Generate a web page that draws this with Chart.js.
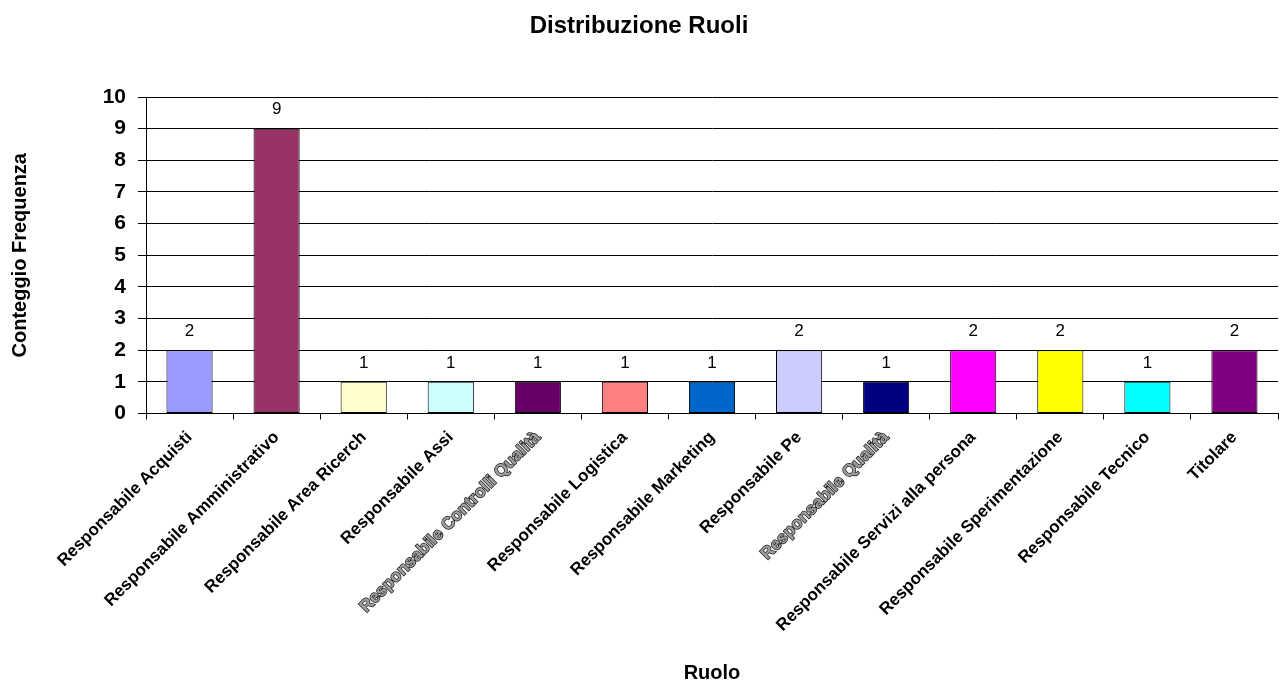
<!DOCTYPE html>
<html lang="it">
<head>
<meta charset="utf-8">
<title>Distribuzione Ruoli</title>
<script src="https://cdn.jsdelivr.net/npm/chart.js@4.4.1/dist/chart.umd.min.js"></script>
<style>
  html, body { margin: 0; padding: 0; background: #ffffff; }
  canvas { display: block; }
</style>
</head>
<body>
<canvas id="chart" width="1280" height="683"></canvas>
<script>
// Ruoli (etichette come appaiono sull'asse)
const ruoli = [
  'Responsabile Acquisti',
  'Responsabile Amministrativo',
  'Responsabile Area Ricerch',
  'Responsabile Assi',
  'Responsabile Controlli Qualità',
  'Responsabile Logistica',
  'Responsabile Marketing',
  'Responsabile Pe',
  'Responsabile Qualità',
  'Responsabile Servizi alla persona',
  'Responsabile Sperimentazione',
  'Responsabile Tecnico',
  'Titolare'
];

// Conteggio per ruolo
const conteggi = [2, 9, 1, 1, 1, 1, 1, 2, 1, 2, 2, 1, 2];

// Valori dell'asse Y
const yMin = 0;
const yMax = 10;
const yStep = 1;

// Colori delle barre
const coloriBarre = [
  '#9999FF', '#993366', '#FFFFCC', '#CCFFFF', '#660066', '#FF8080', '#0066CC',
  '#CCCCFF', '#000080', '#FF00FF', '#FFFF00', '#00FFFF', '#800080'
];

// Etichette disegnate con contorno
const etichetteContorno = ['Responsabile Controlli Qualità', 'Responsabile Qualità'];

const FONT = '"Liberation Sans", Arial, Helvetica, sans-serif';

// Valore sopra ogni barra
const valoriSopraBarre = {
  id: 'valoriSopraBarre',
  afterDatasetsDraw(chart) {
    const ctx = chart.ctx;
    const meta = chart.getDatasetMeta(0);
    const data = chart.data.datasets[0].data;
    ctx.save();
    ctx.font = '17px ' + FONT;
    ctx.fillStyle = '#000000';
    ctx.textAlign = 'center';
    ctx.textBaseline = 'middle';
    meta.data.forEach((bar, i) => {
      ctx.fillText(String(data[i]), bar.x, bar.y - 19);
    });
    ctx.restore();
  }
};

new Chart(document.getElementById('chart'), {
  type: 'bar',
  data: {
    labels: ruoli,
    datasets: [{
      data: conteggi,
      backgroundColor: coloriBarre,
      borderColor: '#000000',
      borderWidth: 1,
      borderSkipped: false,
      barPercentage: 0.53,
      categoryPercentage: 1.0
    }]
  },
  options: {
    responsive: false,
    animation: false,
    devicePixelRatio: 1,
    layout: { padding: { left: 0, right: 2, top: 0, bottom: 0 } },
    plugins: {
      legend: { display: false },
      tooltip: { enabled: false },
      title: {
        display: true,
        text: 'Distribuzione Ruoli',
        color: '#000000',
        font: { family: FONT, size: 24, weight: 'bold', lineHeight: 1.2 },
        padding: { top: 12, bottom: 56.2 }
      }
    },
    scales: {
      x: {
        grid: {
          display: true,
          drawOnChartArea: false,
          drawTicks: true,
          tickLength: 6,
          color: '#000000',
          lineWidth: 1,
          offset: true
        },
        border: { display: true, color: '#000000', width: 1 },
        ticks: {
          autoSkip: false,
          minRotation: 45,
          maxRotation: 45,
          padding: 8,
          font: { family: FONT, size: 17, weight: 'bold' },
          color: (c) => etichetteContorno.includes(ruoli[c.index]) ? '#a0a0a0' : '#000000',
          textStrokeColor: (c) => etichetteContorno.includes(ruoli[c.index]) ? '#202020' : '',
          textStrokeWidth: (c) => etichetteContorno.includes(ruoli[c.index]) ? 1.5 : 0
        },
        title: {
          display: true,
          text: 'Ruolo',
          color: '#000000',
          font: { family: FONT, size: 20, weight: 'bold', lineHeight: 1 },
          padding: { top: 0, bottom: 0 }
        },
        afterFit(scale) { scale.height = 269.5; }
      },
      y: {
        min: yMin,
        max: yMax,
        ticks: {
          stepSize: yStep,
          padding: 12,
          color: '#000000',
          font: { family: FONT, size: 21, weight: 'bold' }
        },
        grid: {
          color: '#000000',
          lineWidth: 1,
          drawTicks: true,
          tickLength: 8
        },
        border: { display: true, color: '#000000', width: 1 },
        title: {
          display: true,
          text: 'Conteggio Frequenza',
          color: '#000000',
          font: { family: FONT, size: 20, weight: 'bold', lineHeight: 1.2 },
          padding: { top: 8, bottom: 0 }
        },
        afterFit(scale) { scale.width = 146; }
      }
    }
  },
  plugins: [valoriSopraBarre]
});
</script>
</body>
</html>
